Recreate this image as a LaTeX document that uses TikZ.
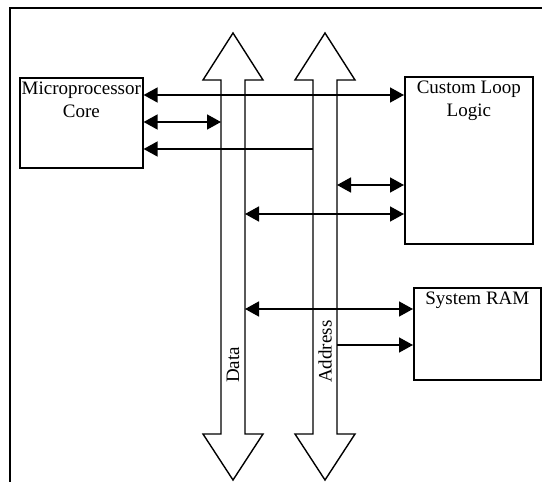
\documentclass[tikz,border=0pt]{standalone}
\usepackage{fontspec}
\setmainfont{Liberation Serif}
\usetikzlibrary{arrows.meta,calc}
\begin{document}
\begin{tikzpicture}[x=1pt,y=-1pt,
  box/.style={draw,line width=1.6pt,rectangle,inner sep=0pt,anchor=north west},
  boxtext/.style={anchor=north,align=center,font=\fontsize{19}{23}\selectfont,inner sep=0pt},
  bus/.style={draw,line width=1.4pt,fill=white,line join=miter},
  link/.style={line width=1.5pt},
  tipend/.style={-{Triangle[length=14pt,width=15pt]}},
  tipboth/.style={{Triangle[length=14pt,width=15pt]}-{Triangle[length=14pt,width=15pt]}},
  buslabel/.style={rotate=90,anchor=west,font=\fontsize{19}{22}\selectfont,inner sep=0pt}]
\useasboundingbox (0,0) rectangle (542,482);
% frame
\draw[line width=2.2pt] (10,482) -- (10,8) -- (542,8);
% boxes
\node[box,minimum width=123pt,minimum height=90pt] (micro) at (19,77) {};
\node[boxtext] (microtext) at ($(micro.north)+(0,5)$) {Microprocessor\\Core};
\node[box,minimum width=128pt,minimum height=167pt] (custom) at (404,76) {};
\node[boxtext] (customtext) at ($(custom.north)+(0,5)$) {Custom Loop\\Logic};
\node[box,minimum width=127pt,minimum height=92pt] (ram) at (413,287) {};
\node[boxtext] (ramtext) at ($(ram.north)+(0,5)$) {System RAM};
% buses
\draw[bus] (221,80) -- (203,80) -- (233,33) -- (263,80) -- (245,80) -- (245,434)
  -- (263,434) -- (233,480) -- (203,434) -- (221,434) -- cycle;
\draw[bus] (313,80) -- (295,80) -- (325,33) -- (355,80) -- (337,80) -- (337,434)
  -- (355,434) -- (325,480) -- (295,434) -- (313,434) -- cycle;
\coordinate (dL) at (221,0);
\coordinate (dR) at (245,0);
\coordinate (aL) at (313,0);
\coordinate (aR) at (337,0);
\node[buslabel] (datalabel) at (233,383) {Data};
\node[buslabel] (addrlabel) at (325,383) {Address};
% levels
\coordinate (y1) at (0,95);
\coordinate (y2) at (0,122);
\coordinate (y3) at (0,149);
\coordinate (y4) at (0,185);
\coordinate (y5) at (0,214);
\coordinate (y6) at (0,309);
\coordinate (y7) at (0,345);
% connectors
\draw[link,tipboth] (micro.east |- y1) -- (custom.west |- y1);
\draw[link,tipboth] (micro.east |- y2) -- (dL |- y2);
\draw[link,tipend] (aL |- y3) -- (micro.east |- y3);
\draw[link,tipboth] (aR |- y4) -- (custom.west |- y4);
\draw[link,tipboth] (dR |- y5) -- (custom.west |- y5);
\draw[link,tipboth] (dR |- y6) -- (ram.west |- y6);
\draw[link,tipend] (aR |- y7) -- (ram.west |- y7);
\end{tikzpicture}
\end{document}
